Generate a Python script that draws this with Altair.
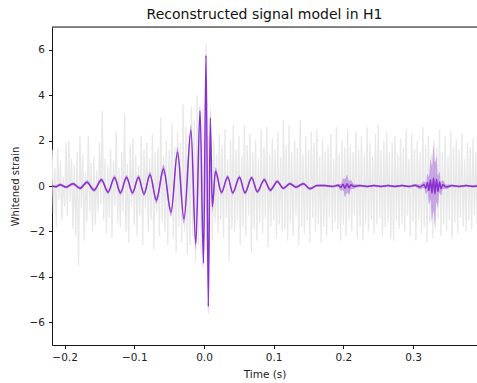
import altair as alt
import numpy as np
import pandas as pd

# ---- whitened detector data (grey), sampled every 2 ms from t = -0.218 s ----
noise_t0 = -0.218
noise_dt = 0.002
noise_v = [
    1.6, -1.2, 0.8, -1.8, 1.7, -0.6, 1.1, -1.5, 0.4, -0.9,
    1.9, -1.3, 2.0, -0.7, 1.2, -1.9, 0.9, -2.2, 1.5, -3.5,
    2.2, -1.0, 1.4, -2.4, 0.6, -1.6, 2.2, -1.1, 1.0, -2.0,
    1.3, -1.7, 0.7, -1.2, 1.9, -0.8, 3.3, -1.5, 1.2, -2.1,
    0.9, -1.4, 1.6, -2.3, 1.1, -0.9, 2.4, -1.6, 0.8, -1.8,
    1.5, -1.1, 3.2, -2.0, 1.0, -2.5, 1.8, -0.9, 2.1, -1.7,
    1.4, -2.2, 0.9, -1.3, 2.2, -2.6, 1.6, -1.0, 1.9, -2.0,
    1.2, -1.5, 2.3, -2.8, 1.5, -1.2, 1.7, -2.2, 3.0, -1.6,
    1.3, -2.0, 2.0, -2.6, 1.6, -1.4, 2.8, -2.3, 1.7, -2.9,
    2.4, -1.8, 1.9, -2.5, 3.6, -2.0, 2.6, -3.0, 2.2, -2.6,
    3.5, -2.2, 2.9, -3.3, 4.0, -2.6, 2.5, -3.0, 3.4, -2.4,
    2.6, -2.8, 2.2, -1.8, 1.7, -2.4, 2.0, -1.6, 1.4, -2.1,
    2.3, -1.5, 1.8, -2.3, 2.5, -1.4, 1.2, -3.3, 2.0, -1.9,
    2.7, -2.0, 1.6, -1.5, 2.2, -2.6, 1.3, -1.8, 2.7, -2.2,
    1.8, -1.3, 2.3, -2.9, 1.5, -1.9, 2.0, -2.4, 1.2, -1.6,
    2.5, -2.1, 1.7, -1.4, 2.6, -2.7, 1.4, -1.8, 2.1, -1.5,
    1.6, -2.3, 2.4, -1.7, 1.3, -2.0, 2.9, -1.9, 1.8, -2.4,
    2.7, -1.6, 1.5, -2.2, 2.0, -1.3, 1.7, -2.6, 2.9, -1.8,
    1.4, -2.1, 2.2, -1.5, 1.6, -2.5, 2.4, -1.4, 1.9, -2.0,
    2.5, -1.7, 1.3, -2.5, 2.1, -1.8, 1.5, -2.2, 1.8, -1.4,
    2.3, -2.0, 1.2, -1.6, 2.6, -1.9, 1.4, -2.4, 2.0, -1.7,
    1.7, -2.2, 2.5, -1.5, 1.8, -2.0, 1.5, -1.3, 2.4, -2.3,
    1.6, -1.8, 2.2, -2.4, 1.4, -1.6, 2.6, -2.0, 1.9, -1.5,
    1.3, -2.1, 2.3, -1.7, 2.7, -1.4, 1.6, -2.2, 2.0, -1.8,
    2.4, -1.6, 1.5, -2.3, 1.9, -2.4, 2.2, -1.5, 1.4, -1.9,
    2.1, -1.7, 1.7, -2.0, 2.5, -1.3, 1.2, -2.2, 2.3, -1.6,
    1.6, -2.4, 2.0, -1.5, 1.5, -2.1, 2.6, -1.8, 1.8, -2.5,
    2.2, -1.6, 1.4, -2.3, 2.0, -1.9, 1.7, -1.4, 2.5, -2.2,
    1.5, -1.7, 2.2, -2.0, 1.3, -1.5, 2.4, -2.3, 1.7, -1.6,
    2.0, -2.1, 1.6, -1.4, 2.3, -1.8, 1.2, -2.0, 1.9, -1.5,
    1.7, -1.9, 2.1, -1.3, 1.5, -1.7,
]

# ---- reconstructed signal model (purple): median and credible half-width ----
sig_t = [
    -0.2181, -0.2123, -0.2066, -0.1980, -0.1880, -0.1779, -0.1679, -0.1578,
    -0.1471, -0.1377, -0.1284, -0.1198, -0.1112, -0.1026, -0.0940, -0.0861,
    -0.0775, -0.0684, -0.0581, -0.0473, -0.0380, -0.0287, -0.0187, -0.0118,
    -0.0057, -0.0007, 0.0029, 0.0062, 0.0090, 0.0119, 0.0165, 0.0251,
    0.0340, 0.0412, 0.0509, 0.0588, 0.0684, 0.0765, 0.0865, 0.0951,
    0.1052, 0.1138, 0.1234, 0.1320, 0.1425, 0.1521, 0.1621, 0.1736,
    0.1836, 0.1923, 0.1966, 0.1994, 0.2023, 0.2052, 0.2080, 0.2109,
    0.2152, 0.2238, 0.2339, 0.2439, 0.2539, 0.2640, 0.2740, 0.2841,
    0.2941, 0.3027, 0.3099, 0.3156, 0.3185, 0.3207, 0.3228, 0.3250,
    0.3271, 0.3293, 0.3314, 0.3336, 0.3357, 0.3379, 0.3400, 0.3429,
    0.3472, 0.3558, 0.3659, 0.3759, 0.3859, 0.3917,
]
sig_v = [
    0.00, -0.03, 0.06, -0.05, 0.10, -0.10, 0.17, -0.18,
    0.27, -0.27, 0.37, -0.30, 0.38, -0.30, 0.38, -0.35,
    0.50, -0.62, 0.75, -1.15, 1.50, -1.45, 2.45, -2.55,
    3.30, -3.40, 5.75, -5.30, 3.00, -0.90, 0.65, -0.28,
    0.40, -0.30, 0.38, -0.30, 0.36, -0.25, 0.28, -0.18,
    0.20, -0.10, 0.10, -0.05, 0.10, -0.12, 0.02, 0.02,
    -0.02, 0.03, -0.06, 0.08, -0.10, 0.10, -0.08, 0.05,
    -0.02, 0.02, -0.02, 0.02, -0.02, 0.02, -0.02, 0.02,
    -0.02, 0.03, -0.04, 0.06, -0.10, 0.15, -0.20, 0.28,
    -0.32, 0.35, -0.35, 0.30, -0.25, 0.18, -0.12, 0.07,
    -0.04, 0.02, -0.02, 0.02, -0.02, 0.00,
]
sig_err = [
    0.06, 0.06, 0.06, 0.06, 0.07, 0.07, 0.08, 0.08,
    0.09, 0.09, 0.10, 0.10, 0.10, 0.10, 0.11, 0.11,
    0.13, 0.16, 0.20, 0.18, 0.22, 0.20, 0.25, 0.25,
    0.30, 0.30, 0.60, 0.35, 0.45, 0.25, 0.18, 0.10,
    0.09, 0.09, 0.09, 0.09, 0.09, 0.08, 0.08, 0.08,
    0.07, 0.07, 0.06, 0.06, 0.06, 0.06, 0.05, 0.05,
    0.05, 0.06, 0.15, 0.25, 0.40, 0.40, 0.30, 0.20,
    0.10, 0.05, 0.05, 0.05, 0.05, 0.05, 0.05, 0.05,
    0.05, 0.06, 0.10, 0.15, 0.25, 0.40, 0.60, 0.90,
    1.20, 1.45, 1.40, 1.00, 0.70, 0.45, 0.30, 0.18,
    0.10, 0.05, 0.05, 0.05, 0.05, 0.05,
]

# ---- axis ticks ----
x_ticks = [-0.2, -0.1, 0.0, 0.1, 0.2, 0.3]
y_ticks = [-6, -4, -2, 0, 2, 4, 6]
x_domain = [-0.2181, 0.3917]
y_domain = [-7, 7]

noise_df = pd.DataFrame({
    "t": np.round(noise_t0 + noise_dt * np.arange(len(noise_v)), 4),
    "v": noise_v,
})
sig_df = pd.DataFrame({"t": sig_t, "v": sig_v, "e": sig_err})
sig_df["lo"] = sig_df["v"] - sig_df["e"]
sig_df["hi"] = sig_df["v"] + sig_df["e"]

FONT = "DejaVu Sans"
xscale = alt.Scale(domain=x_domain, nice=False, zero=False)
yscale = alt.Scale(domain=y_domain, nice=False, zero=False)

xaxis = alt.Axis(values=x_ticks, format=".1f", title="Time (s)", grid=False,
                 domainColor="black", domainWidth=0.9, tickColor="black",
                 tickSize=3.5, tickWidth=0.9, labelPadding=4, titlePadding=6,
                 labelFontSize=10.5, titleFontSize=10.5, labelFont=FONT, titleFont=FONT,
                 labelColor="#222", titleColor="#222", titleFontWeight="normal",
                 labelFlush=False)
yaxis = alt.Axis(values=y_ticks, format="d", title="Whitened strain", grid=False,
                 domainColor="black", domainWidth=0.9, tickColor="black",
                 tickSize=3.5, tickWidth=0.9, labelPadding=4, titlePadding=9,
                 labelFontSize=10.5, titleFontSize=10, labelFont=FONT, titleFont=FONT,
                 labelColor="#222", titleColor="#222", titleFontWeight="normal",
                 labelFlush=False)

noise = alt.Chart(noise_df).mark_line(color="#e8e8e8", strokeWidth=1.3, clip=True).encode(
    x=alt.X("t:Q", scale=xscale, axis=xaxis),
    y=alt.Y("v:Q", scale=yscale, axis=yaxis),
)

band = alt.Chart(sig_df).mark_area(color="#9b4fd6", opacity=0.45, interpolate="monotone",
                                   clip=True).encode(
    x=alt.X("t:Q", scale=xscale),
    y=alt.Y("lo:Q", scale=yscale),
    y2="hi:Q",
)

line = alt.Chart(sig_df).mark_line(color="#8a2fd0", strokeWidth=1.5, interpolate="monotone",
                                   clip=True).encode(
    x=alt.X("t:Q", scale=xscale),
    y=alt.Y("v:Q", scale=yscale),
)

top = alt.Chart(pd.DataFrame({"y": [y_domain[1]]})).mark_rule(color="black", strokeWidth=0.9).encode(
    y=alt.Y("y:Q", scale=yscale),
)

chart = alt.layer(noise, band, line, top).properties(
    width=425,
    height=318,
    autosize=alt.AutoSizeParams(type="none"),
    padding={"left": 52, "top": 27, "right": 0, "bottom": 38},
    title=alt.TitleParams("Reconstructed signal model in H1", fontSize=14, font=FONT,
                          fontWeight="normal", color="#111", anchor="middle",
                          baseline="alphabetic", offset=8, dy=14),
).configure_view(stroke=None).configure(background="white")

chart.save("out.html", embed_options={"renderer": "svg", "actions": False})
